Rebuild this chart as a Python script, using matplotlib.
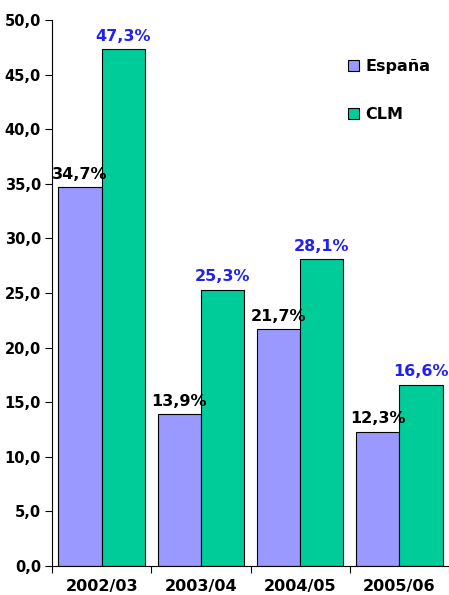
import numpy as np
import matplotlib
matplotlib.use("Agg")
import matplotlib.pyplot as plt
from matplotlib.ticker import FuncFormatter

categories = ['2002/03', '2003/04', '2004/05', '2005/06']
espana = [34.7, 13.9, 21.7, 12.3]
clm = [47.3, 25.3, 28.1, 16.6]
series_names = ['España', 'CLM']

plt.rcParams['font.family'] = ['DejaVu Sans']
plt.rcParams['font.weight'] = 'bold'

fig = plt.figure(figsize=(4.49, 5.95), dpi=100)
ax = fig.add_axes([52/449, 29/595, 397/449, 546/595])

x = np.arange(len(categories))
w = 0.435
ax.bar(x - w/2, espana, w, color='#9999FF', edgecolor='black', linewidth=0.8, label=series_names[0])
ax.bar(x + w/2, clm, w, color='#00CC99', edgecolor='black', linewidth=0.8, label=series_names[1])

def fmt(v):
    return ('%.1f' % v).replace('.', ',') + '%'

for xi, v in zip(x, espana):
    ax.text(xi - w/2, v + 0.5, fmt(v), ha='center', va='bottom', fontsize=11.5, fontweight='bold', color='black')
for xi, v in zip(x, clm):
    ax.text(xi + w/2, v + 0.5, fmt(v), ha='center', va='bottom', fontsize=11.5, fontweight='bold', color='#2222EE')

ax.set_xlim(-0.5, 3.5)
ax.set_ylim(0, 50)
ax.set_yticks(np.arange(0, 51, 5))
ax.yaxis.set_major_formatter(FuncFormatter(lambda v, p: ('%.1f' % v).replace('.', ',')))
ax.set_xticks(np.arange(-0.5, 4, 1))
ax.set_xticklabels([])
ax.set_xticks(x, minor=True)
ax.set_xticklabels(categories, minor=True)
ax.tick_params(axis='x', which='minor', length=0, pad=9, labelsize=11.5)
ax.tick_params(axis='x', which='major', length=5, direction='out')
ax.tick_params(axis='y', length=5, direction='out', labelsize=10.5, pad=3)
for lbl in ax.get_xticklabels(minor=True) + ax.get_yticklabels():
    lbl.set_fontweight('bold')

ax.spines['top'].set_visible(False)
ax.spines['right'].set_visible(False)

ax.legend(loc='upper left', bbox_to_anchor=(0.71, 0.955), frameon=False,
          prop={'weight': 'bold', 'size': 11.5}, handlelength=0.7, handleheight=0.7,
          handletextpad=0.35, labelspacing=2.05)

fig.savefig('out.png', dpi=100)
